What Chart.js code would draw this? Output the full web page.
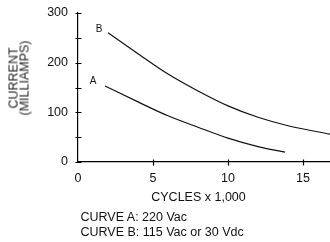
<!DOCTYPE html>
<html>
<head>
<meta charset="utf-8">
<script src="https://cdn.jsdelivr.net/npm/chart.js@4"></script>
<style>
  body { margin: 0; background: #fff; }
  .wrap {
    position: relative; width: 330px; height: 242px;
    font-family: "Liberation Sans", Arial, sans-serif; font-size: 12.5px; color: #111;
  }
  .wrap canvas { position: absolute; left: 0; top: 0; }
  .ytitle {
    position: absolute; left: 19px; top: 78px; white-space: nowrap;
    line-height: 10.5px; text-align: center; color: #222;
    transform: translate(-50%, -50%) rotate(-90deg);
  }
  .xtitle {
    position: absolute; left: 198.5px; top: 190px; line-height: 15px;
    white-space: nowrap; transform: translateX(-50%);
  }
  .note { position: absolute; left: 80.5px; top: 210px; line-height: 15px; white-space: nowrap; }
</style>
</head>
<body>
<div class="wrap">
  <canvas id="myChart" width="330" height="242"></canvas>
  <div class="ytitle">CURRENT<br>(MILLIAMPS)</div>
  <div class="xtitle">CYCLES x 1,000</div>
  <div class="note">CURVE A: 220 Vac<br>CURVE B: 115 Vac or 30 Vdc</div>
</div>
<script>
// curve data
const curveNames = ["A", "B"];
const cyclesA = [1.8, 4, 6, 8, 10, 12, 13.8];
const currentA = [153, 121, 93, 70, 48, 31, 20];
const cyclesB = [2, 4, 6, 8, 10, 12, 14, 16.8];
const currentB = [260, 218, 177, 143, 113, 90, 73, 56];

const xTicks = [0, 5, 10, 15];
const xMarks = [5, 10, 15];
const yTicks = [0, 100, 200, 300];
const yMarks = [0, 50, 100, 150, 200, 250, 300];

const labelOffsets = [[-12, -5], [-9, -4]];
const font = { family: '"Liberation Sans", Arial, sans-serif', size: 12.5 };

function toPoints(xs, ys) {
  return xs.map((x, i) => ({ x: x, y: ys[i] }));
}

// A / B tags next to the first point of each curve
const curveLabels = {
  id: "curveLabels",
  afterDatasetsDraw(chart) {
    const c = chart.ctx;
    c.save();
    c.font = '10px "Liberation Sans", Arial, sans-serif';
    c.fillStyle = "#111";
    c.textAlign = "center";
    c.textBaseline = "middle";
    chart.data.datasets.forEach((ds, i) => {
      const p = chart.getDatasetMeta(i).data[0];
      c.fillText(ds.label, p.x + labelOffsets[i][0], p.y + labelOffsets[i][1]);
    });
    c.restore();
  }
};

// tick marks crossing the axis lines
const axisMarks = {
  id: "axisMarks",
  afterDraw(chart) {
    const c = chart.ctx;
    const xs = chart.scales.x, ys = chart.scales.y;
    const left = Math.round(chart.chartArea.left) + 0.5;
    const bottom = Math.round(chart.chartArea.bottom) + 0.5;
    c.save();
    c.strokeStyle = "#000";
    c.lineWidth = 1.2;
    c.beginPath();
    yMarks.forEach((v) => {
      const y = Math.round(ys.getPixelForValue(v)) + 0.5;
      c.moveTo(left - 3, y);
      c.lineTo(left + 3, y);
    });
    xMarks.forEach((v) => {
      const x = Math.round(xs.getPixelForValue(v)) + 0.5;
      c.moveTo(x, bottom - 3);
      c.lineTo(x, bottom + 3);
    });
    c.stroke();
    c.restore();
  }
};

const ctx = document.getElementById("myChart");

new Chart(ctx, {
  type: "line",
  data: {
    datasets: [
      {
        label: curveNames[0],
        data: toPoints(cyclesA, currentA),
        borderColor: "#111",
        borderWidth: 1.2,
        pointRadius: 0,
        cubicInterpolationMode: "monotone"
      },
      {
        label: curveNames[1],
        data: toPoints(cyclesB, currentB),
        borderColor: "#111",
        borderWidth: 1.2,
        pointRadius: 0,
        cubicInterpolationMode: "monotone"
      }
    ]
  },
  plugins: [curveLabels, axisMarks],
  options: {
    responsive: false,
    animation: false,
    layout: { padding: { top: 13, right: 0, left: 0, bottom: 0 } },
    plugins: {
      legend: { display: false },
      tooltip: { enabled: false }
    },
    scales: {
      x: {
        type: "linear",
        min: 0,
        max: 16.8,
        grid: { display: false, drawTicks: false },
        border: { display: true, color: "#000", width: 1.2 },
        ticks: { color: "#111", font: font, padding: 9, maxRotation: 0 },
        afterBuildTicks: (s) => { s.ticks = xTicks.map((v) => ({ value: v })); },
        afterFit: (s) => { s.height = 80; s.paddingLeft = 0; s.paddingRight = 0; }
      },
      y: {
        type: "linear",
        min: 0,
        max: 300,
        grid: { display: false, drawTicks: false },
        border: { display: true, color: "#000", width: 1.2 },
        ticks: { color: "#111", font: font, padding: 10 },
        afterBuildTicks: (s) => { s.ticks = yTicks.map((v) => ({ value: v })); },
        afterFit: (s) => { s.width = 78; s.paddingTop = 0; s.paddingBottom = 0; }
      }
    }
  }
});
</script>
</body>
</html>
